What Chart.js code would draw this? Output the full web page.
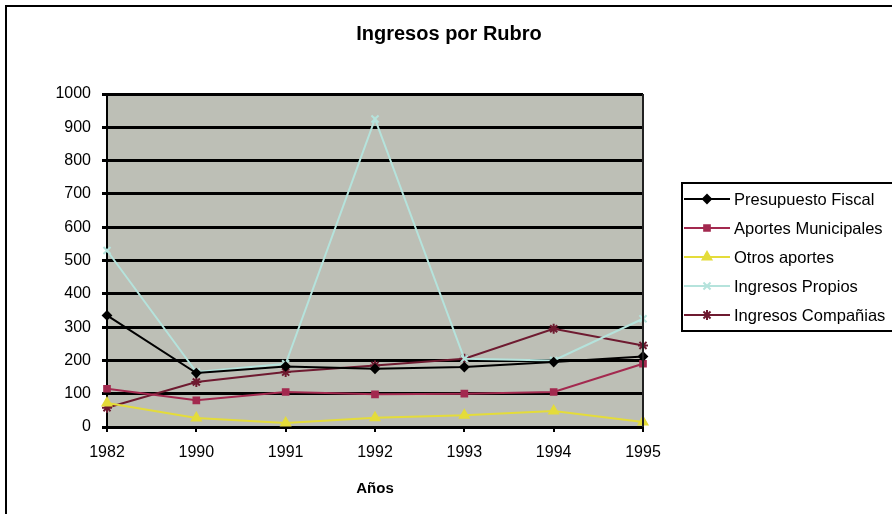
<!DOCTYPE html>
<html>
<head>
<meta charset="utf-8">
<script src="https://cdn.jsdelivr.net/npm/chart.js@4/dist/chart.umd.min.js"></script>
<style>
  html, body { margin: 0; padding: 0; background: #fff; }
  #wrap { width: 892px; height: 514px; }
</style>
</head>
<body>
<div id="wrap"><canvas id="chart" width="892" height="514"></canvas></div>
<script>
// Ingresos por Rubro
const years = ['1982', '1990', '1991', '1992', '1993', '1994', '1995'];
const presupuestoFiscal = [335, 162, 182, 175, 180, 195, 212];
const aportesMunicipales = [115, 80, 105, 98, 100, 105, 190];
const otrosAportes = [72, 27, 12, 28, 35, 48, 15];
const ingresosPropios = [530, 165, 190, 925, 205, 200, 325];
const ingresosCompanias = [58, 135, 165, 185, 205, 295, 245];
const yTicks = [0, 100, 200, 300, 400, 500, 600, 700, 800, 900, 1000];
const chartTitle = 'Ingresos por Rubro';

const FONT = '"Liberation Sans", Arial, sans-serif';
Chart.defaults.font.family = FONT;
Chart.defaults.color = '#000';

function serie(label, data, color, style, radius) {
  return {
    label, data,
    borderColor: color,
    backgroundColor: color,
    borderWidth: 2,
    pointStyle: style,
    pointRadius: radius,
    pointBorderWidth: 2,
    tension: 0
  };
}

const fondo = {
  id: 'fondo',
  beforeDraw(chart) {
    const { ctx, chartArea: a } = chart;
    ctx.save();
    ctx.fillStyle = '#fff';
    ctx.fillRect(0, 0, chart.width, chart.height);
    ctx.fillStyle = '#bdbfb6';
    ctx.fillRect(a.left, a.top, a.right - a.left, a.bottom - a.top);
    ctx.restore();
  },
  afterDraw(chart) {
    const { ctx, chartArea: a } = chart;
    ctx.save();
    // borde derecho del área de trazado
    ctx.strokeStyle = '#222';
    ctx.lineWidth = 2;
    ctx.beginPath();
    ctx.moveTo(a.right, a.top);
    ctx.lineTo(a.right, a.bottom);
    ctx.stroke();
    // marco exterior
    ctx.strokeStyle = '#000';
    ctx.beginPath();
    ctx.moveTo(6, 514);
    ctx.lineTo(6, 6);
    ctx.lineTo(892, 6);
    ctx.stroke();
    // título
    ctx.fillStyle = '#000';
    ctx.font = 'bold 20px ' + FONT;
    ctx.textAlign = 'center';
    ctx.textBaseline = 'middle';
    ctx.fillText(chartTitle, 449, 34);
    // leyenda
    const lx = 682, ly = 183, rowH = 29;
    ctx.fillStyle = '#fff';
    ctx.fillRect(lx, ly, 220, 148);
    ctx.strokeStyle = '#000';
    ctx.lineWidth = 2;
    ctx.strokeRect(lx, ly, 220, 148);
    ctx.font = '16.5px ' + FONT;
    ctx.textAlign = 'left';
    chart.data.datasets.forEach((ds, i) => {
      const y = ly + 16 + i * rowH;
      ctx.strokeStyle = ds.borderColor;
      ctx.lineWidth = 2;
      ctx.beginPath();
      ctx.moveTo(lx + 2, y);
      ctx.lineTo(lx + 48, y);
      ctx.stroke();
      ctx.fillStyle = ds.backgroundColor;
      ctx.strokeStyle = ds.borderColor;
      Chart.helpers.drawPoint(ctx, {
        pointStyle: ds.pointStyle, radius: ds.pointRadius, borderWidth: 2, rotation: 0
      }, lx + 25, y);
      ctx.fillStyle = '#000';
      ctx.fillText(ds.label, lx + 52, y + 1);
    });
    ctx.restore();
  }
};

new Chart(document.getElementById('chart'), {
  type: 'line',
  data: {
    labels: years,
    datasets: [
      serie('Presupuesto Fiscal', presupuestoFiscal, '#000000', 'rectRot', 4),
      serie('Aportes Municipales', aportesMunicipales, '#a3294f', 'rect', 4),
      serie('Otros aportes', otrosAportes, '#e4dc3a', 'triangle', 5),
      serie('Ingresos Propios', ingresosPropios, '#b5e3dc', 'crossRot', 5),
      serie('Ingresos Compañias', ingresosCompanias, '#6e1a30', 'star', 5)
    ]
  },
  options: {
    responsive: false,
    animation: false,
    layout: { padding: { left: 0, right: 249, top: 94, bottom: 0 } },
    plugins: {
      legend: { display: false },
      tooltip: { enabled: false },
      title: { display: false }
    },
    scales: {
      x: {
        offset: false,
        afterFit(s) { s.height = 87; },
        grid: { display: true, drawOnChartArea: false, drawTicks: true, tickLength: 5, color: '#000', lineWidth: 2, offset: false },
        border: { color: '#000', width: 2 },
        ticks: { font: { size: 16 }, padding: 11, maxRotation: 0 },
        title: {
          display: true, text: 'Años',
          font: { size: 15, weight: 'bold' },
          padding: { top: 16, bottom: 16 }
        }
      },
      y: {
        min: 0, max: 1000,
        afterFit(s) { s.width = 107; },
        afterBuildTicks(s) { s.ticks = yTicks.map(v => ({ value: v })); },
        grid: { color: '#000', lineWidth: 3, tickLength: 5 },
        border: { color: '#000', width: 2 },
        ticks: { font: { size: 16 }, padding: 11, callback: v => String(v) }
      }
    }
  },
  plugins: [fondo]
});
</script>
</body>
</html>
